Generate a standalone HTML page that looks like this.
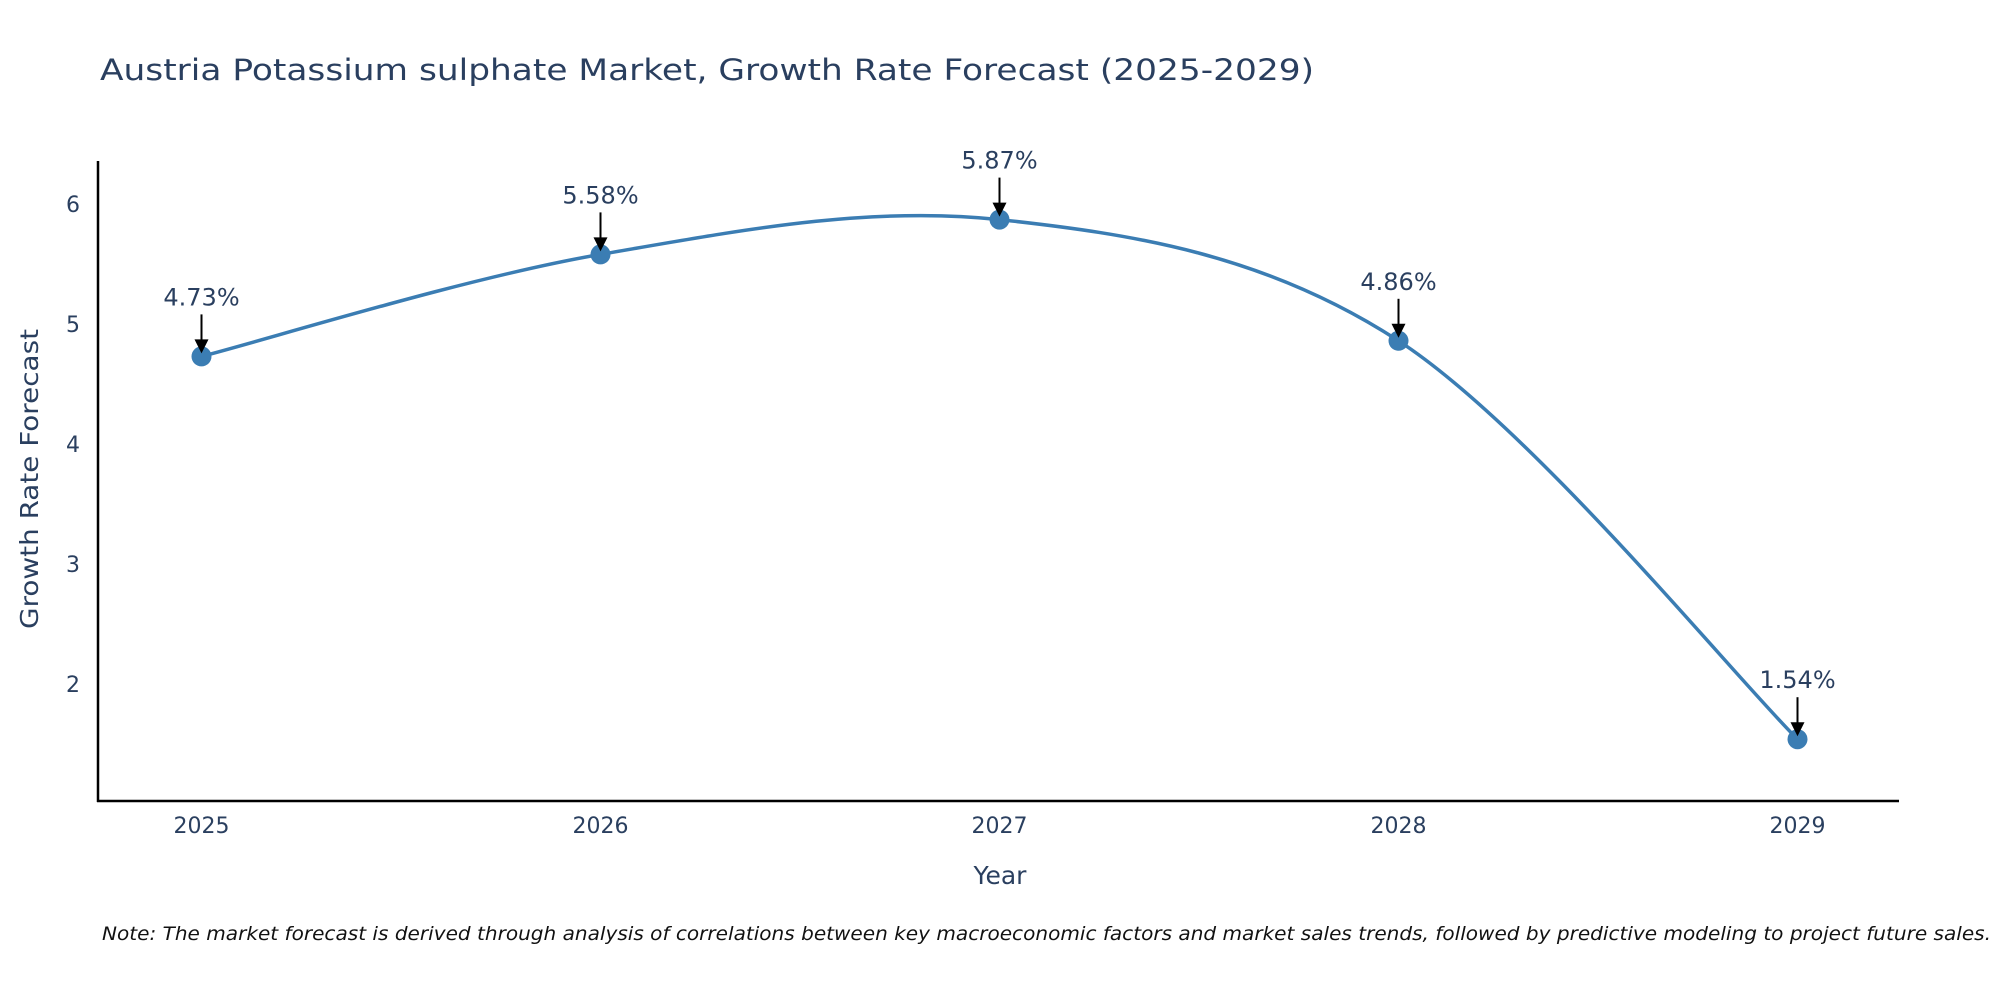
<!DOCTYPE html>
<html><head><meta charset="utf-8"><style>
body{margin:0;background:#fff;}
svg{display:block;font-family:"DejaVu Sans","Liberation Sans",sans-serif;}
</style></head><body>
<svg id="chart" width="2000" height="1000" viewBox="0 0 2000 1000">
<rect width="2000" height="1000" fill="#fff"/>
<text x="100" y="80" font-size="29" textLength="1214" lengthAdjust="spacingAndGlyphs" fill="#2a3f5f">Austria Potassium sulphate Market, Growth Rate Forecast (2025-2029)</text>
<g id="yticks"></g>
<g id="xticks"></g>
<line x1="98" y1="161" x2="98" y2="802" stroke="#000" stroke-width="2.5"/>
<line x1="97" y1="801" x2="1899" y2="801" stroke="#000" stroke-width="2.5"/>
<text transform="translate(38,479) rotate(-90)" text-anchor="middle" font-size="25" textLength="300" lengthAdjust="spacingAndGlyphs" fill="#2a3f5f">Growth Rate Forecast</text>
<text x="1000" y="884" text-anchor="middle" font-size="25" fill="#2a3f5f">Year</text>
<g id="series"></g>
<g id="annots"></g>
<text x="102" y="940" font-size="19" textLength="1889" lengthAdjust="spacingAndGlyphs" font-style="italic" fill="#111">Note: The market forecast is derived through analysis of correlations between key macroeconomic factors and market sales trends, followed by predictive modeling to project future sales.</text>
</svg>
<script>
const years = [2025, 2026, 2027, 2028, 2029];
const growth = [4.73, 5.58, 5.87, 4.86, 1.54];
const labels = ["4.73%", "5.58%", "5.87%", "4.86%", "1.54%"];
const yTicks = [2, 3, 4, 5, 6];

const NS = "http://www.w3.org/2000/svg";
function xS(v){ return 201.5 + (v - 2025) * 399; }
function yS(v){ return 684 - (v - 2) * 120; }
function mk(tag, attrs, parent){
  const e = document.createElementNS(NS, tag);
  for (const k in attrs) e.setAttribute(k, attrs[k]);
  parent.appendChild(e); return e;
}
const yt = document.getElementById('yticks');
yTicks.forEach(t => {
  const e = mk('text', {x: 80, y: yS(t) + 8, 'text-anchor': 'end', 'font-size': 22, fill: '#2a3f5f'}, yt);
  
  
  e.textContent = t;
});
const xt = document.getElementById('xticks');
years.forEach(y => {
  const e = mk('text', {x: xS(y), y: 833, 'text-anchor': 'middle', 'font-size': 22, fill: '#2a3f5f'}, xt);
  
  
  e.textContent = y;
});
const pts = years.map((y, i) => [xS(y), yS(growth[i])]);
let d = `M${pts[0][0]},${pts[0][1]}`;
for (let i = 0; i < pts.length - 1; i++) {
  const p0 = pts[Math.max(0, i - 1)], p1 = pts[i], p2 = pts[i + 1], p3 = pts[Math.min(pts.length - 1, i + 2)];
  const k = 1 / 6;
  const c1 = [p1[0] + (p2[0] - p0[0]) * k, p1[1] + (p2[1] - p0[1]) * k];
  const c2 = [p2[0] - (p3[0] - p1[0]) * k, p2[1] - (p3[1] - p1[1]) * k];
  d += ` C${c1[0]},${c1[1]} ${c2[0]},${c2[1]} ${p2[0]},${p2[1]}`;
}
const ser = document.getElementById('series');
const line = mk('path', {d: d, fill: 'none', stroke: '#3b7db3', 'stroke-width': 3.5}, ser);


pts.forEach(p => {
  const c = mk('circle', {cx: p[0], cy: p[1], r: 10, fill: '#3b7db3'}, ser);
  
  
});
const an = document.getElementById('annots');
pts.forEach((p, i) => {
  const t = mk('text', {x: p[0], y: p[1] - 51, 'text-anchor': 'middle', 'font-size': 24, fill: '#2a3f5f'}, an);
  
  
  t.textContent = labels[i];
  const l = mk('line', {x1: p[0], y1: p[1] - 42, x2: p[0], y2: p[1] - 16, stroke: '#000', 'stroke-width': 2}, an);
  
  
  const h = mk('polygon', {points: `${p[0]-7},${p[1]-17} ${p[0]+7},${p[1]-17} ${p[0]},${p[1]-3}`, fill: '#000'}, an);
  
  
});
</script>
</body></html>
